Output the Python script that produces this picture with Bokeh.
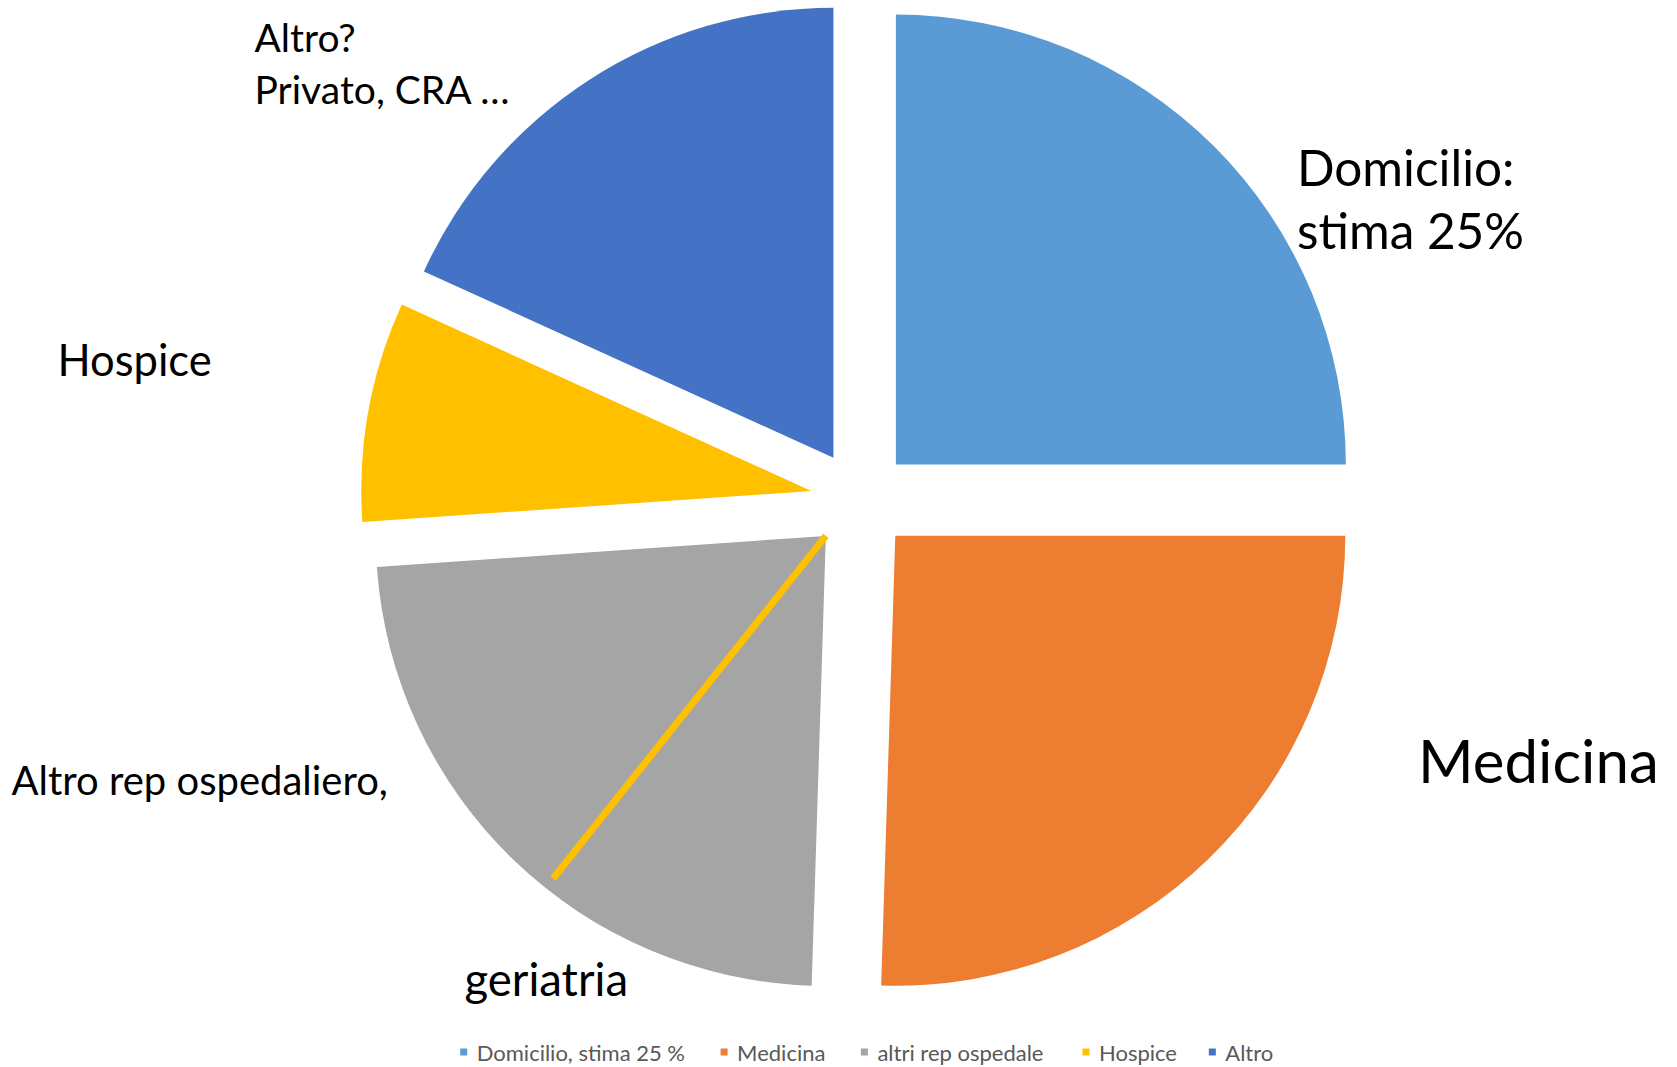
import math
from bokeh.plotting import figure
from bokeh.models import Range1d, ColumnDataSource
from bokeh.core.properties import value
from bokeh.embed import file_html
from bokeh.resources import INLINE

# ---------------- data ----------------
categories = ["Domicilio, stima 25 %", "Medicina", "altri rep ospedale", "Hospice", "Altro"]
shares = [25.0, 25.5, 23.4, 7.9, 18.2]          # percent of the pie
colors = ["#5B9BD5", "#ED7D31", "#A5A5A5", "#FFC000", "#4472C4"]
geriatria_share = 10.2                           # part of "altri rep ospedale" (drawn divider)

# free text boxes
label_texts = ["Altro?", "Privato, CRA \u2026", "Hospice", "Altro rep ospedaliero,",
               "geriatria", "Domicilio:", "stima 25%", "Medicina"]

# ---------------- layout ----------------
W, H = 1677, 1067
BASE_FIX = 0.42   # baseline correction (fraction of font size)
def sx(X):
    return X
def sy(Y):
    return H - Y

CX, CY = sx(860.0), sy(499.4)   # pie centre
R = 450.0                       # radius
EXPLODE = 50.0                  # explode distance

p = figure(width=W, height=H, x_range=Range1d(0, W), y_range=Range1d(0, H),
           output_backend="svg", toolbar_location=None,
           x_axis_type=None, y_axis_type=None, min_border=0)
p.outline_line_color = None
p.grid.visible = False
p.background_fill_color = "white"
p.border_fill_color = "white"

total = sum(shares)
xs, ys, sa, ea = [], [], [], []
cum = 0.0
for s in shares:
    t0 = cum / total * 2 * math.pi
    t1 = (cum + s) / total * 2 * math.pi
    mid = (t0 + t1) / 2
    xs.append(CX + EXPLODE * math.sin(mid))
    ys.append(CY + EXPLODE * math.cos(mid))
    sa.append(math.pi / 2 - t0)
    ea.append(math.pi / 2 - t1)
    cum += s

src = ColumnDataSource(dict(x=xs, y=ys, start=sa, end=ea, color=colors, cat=categories))
p.wedge(x="x", y="y", radius=R, start_angle="start", end_angle="end", direction="clock",
        fill_color="color", line_color=None, source=src)

# divider line inside "altri rep ospedale"
gi = 2
theta = (sum(shares[:gi]) + geriatria_share) / total * 2 * math.pi
L = R * 0.973
p.segment(x0=[xs[gi]], y0=[ys[gi]],
          x1=[xs[gi] + L * math.sin(theta)], y1=[ys[gi] + L * math.cos(theta)],
          line_color="#FFC000", line_width=7, line_cap="butt")

# text boxes
lab_x = [254, 254, 57, 11, 464, 1296.5, 1296.5, 1417.5]
lab_y = [53.3, 104.7, 376.7, 796.3, 997, 187, 250, 784.5]
lab_size = [39, 39, 43.5, 40, 45.5, 49.5, 49.5, 60]
for t, X, Y, fs in zip(label_texts, lab_x, lab_y, lab_size):
    p.text(x=[sx(X)], y=[sy(Y) + BASE_FIX * fs], text=[t], text_font=value("Lato"),
           text_font_size=f"{fs}px", text_color="#000000",
           text_align="left", text_baseline="alphabetic")

# legend (manual, horizontal)
leg_sq_x = [463.2, 723.6, 863.9, 1085.5, 1211.8]
leg_y = 1051.5
leg_fs = 22
for c, cat, X in zip(colors, categories, leg_sq_x):
    p.rect(x=[sx(X)], y=[sy(leg_y)], width=7, height=7, fill_color=c, line_color=None)
    p.text(x=[sx(X + 13)], y=[sy(1061.7) + BASE_FIX * leg_fs], text=[cat],
           text_font=value("Lato"), text_font_size=f"{leg_fs}px", text_color="#595959",
           text_align="left", text_baseline="alphabetic")

open("out.html", "w").write(file_html(p, INLINE))
